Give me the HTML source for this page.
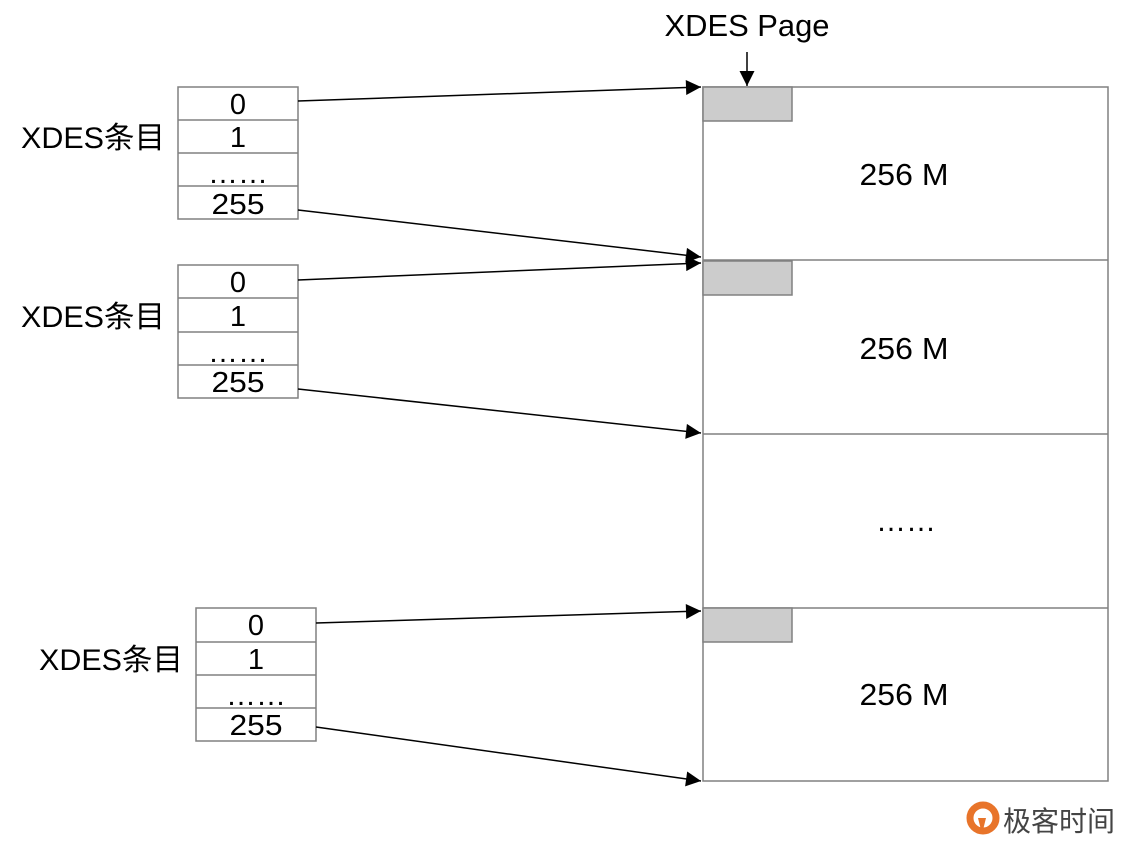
<!DOCTYPE html>
<html><head><meta charset="utf-8"><style>
html,body{margin:0;padding:0;background:#fff;}
svg{display:block;}
text{font-family:"Liberation Sans","Noto Sans CJK SC",sans-serif;fill:#000;}
</style></head><body>
<svg width="1146" height="863" viewBox="0 0 1146 863" xmlns="http://www.w3.org/2000/svg">
<defs>
<marker id="a" viewBox="0 0 10 10" refX="10" refY="5" markerWidth="18" markerHeight="15" markerUnits="userSpaceOnUse" orient="auto">
<path d="M0,0 L10,5 L0,10 z" fill="#000"/>
</marker>
</defs>
<g fill="#fff" stroke="#808080" stroke-width="1.5">
<rect x="703" y="87" width="405" height="694"/>
<line x1="703" y1="260" x2="1108" y2="260"/>
<line x1="703" y1="434" x2="1108" y2="434"/>
<line x1="703" y1="608" x2="1108" y2="608"/>
</g>
<g fill="#ccc" stroke="#808080" stroke-width="1.5">
<rect x="703" y="87" width="89" height="34"/>
<rect x="703" y="261" width="89" height="34"/>
<rect x="703" y="608" width="89" height="34"/>
</g>
<g font-size="31" text-anchor="middle">
<text x="904" y="185" textLength="89" lengthAdjust="spacingAndGlyphs">256 M</text>
<text x="904" y="359" textLength="89" lengthAdjust="spacingAndGlyphs">256 M</text>
<text x="906" y="531" textLength="60" lengthAdjust="spacingAndGlyphs">……</text>
<text x="904" y="705" textLength="89" lengthAdjust="spacingAndGlyphs">256 M</text>
<text x="747" y="36" textLength="165" lengthAdjust="spacingAndGlyphs">XDES Page</text>
</g>
<line x1="747" y1="52" x2="747" y2="86" stroke="#000" stroke-width="1.5" marker-end="url(#a)"/>
<g fill="#fff" stroke="#808080" stroke-width="1.5">
<rect x="178" y="87" width="120" height="132"/>
<line x1="178" y1="120" x2="298" y2="120"/><line x1="178" y1="153" x2="298" y2="153"/><line x1="178" y1="186" x2="298" y2="186"/>
<rect x="178" y="265" width="120" height="133"/>
<line x1="178" y1="298" x2="298" y2="298"/><line x1="178" y1="332" x2="298" y2="332"/><line x1="178" y1="365" x2="298" y2="365"/>
<rect x="196" y="608" width="120" height="133"/>
<line x1="196" y1="642" x2="316" y2="642"/><line x1="196" y1="675" x2="316" y2="675"/><line x1="196" y1="708" x2="316" y2="708"/>
</g>
<g font-size="29" text-anchor="middle">
<text x="238" y="114">0</text><text x="238" y="147">1</text><text x="238" y="183" textLength="60" lengthAdjust="spacingAndGlyphs">……</text><text x="238" y="214" textLength="53" lengthAdjust="spacingAndGlyphs">255</text>
<text x="238" y="292">0</text><text x="238" y="326">1</text><text x="238" y="362" textLength="60" lengthAdjust="spacingAndGlyphs">……</text><text x="238" y="392" textLength="53" lengthAdjust="spacingAndGlyphs">255</text>
<text x="256" y="635">0</text><text x="256" y="669">1</text><text x="256" y="705" textLength="60" lengthAdjust="spacingAndGlyphs">……</text><text x="256" y="735" textLength="53" lengthAdjust="spacingAndGlyphs">255</text>
</g>
<g font-size="30">
<text x="21" y="148" textLength="144" lengthAdjust="spacingAndGlyphs">XDES条目</text>
<text x="21" y="327" textLength="144" lengthAdjust="spacingAndGlyphs">XDES条目</text>
<text x="39" y="670" textLength="144" lengthAdjust="spacingAndGlyphs">XDES条目</text>
</g>
<g stroke="#000" stroke-width="1.5" fill="none">
<line x1="298" y1="101" x2="701" y2="87" marker-end="url(#a)"/>
<line x1="298" y1="210" x2="701" y2="257" marker-end="url(#a)"/>
<line x1="298" y1="280" x2="701" y2="263" marker-end="url(#a)"/>
<line x1="298" y1="389" x2="701" y2="433" marker-end="url(#a)"/>
<line x1="316" y1="623" x2="701" y2="611" marker-end="url(#a)"/>
<line x1="316" y1="727" x2="701" y2="781" marker-end="url(#a)"/>
</g>
<circle cx="983" cy="818" r="13" fill="none" stroke="#e8742a" stroke-width="7"/>
<path d="M978,818 L986,818 L982,834 z" fill="#e8742a"/>
<text x="1003" y="831" font-size="28" style="fill:#444">极客时间</text>
</svg>
</body></html>
